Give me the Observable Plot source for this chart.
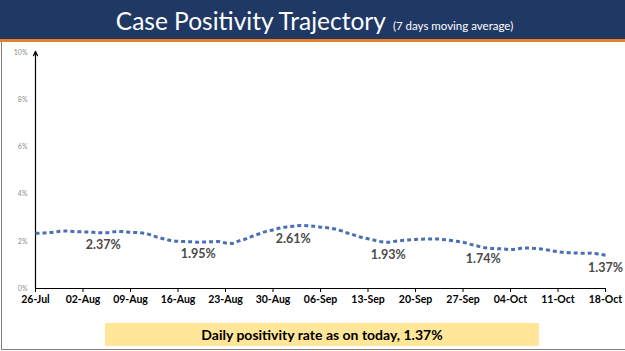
<!DOCTYPE html>
<html>
<head>
<meta charset="utf-8">
<script src="https://cdn.jsdelivr.net/npm/d3@7"></script>
<script src="https://cdn.jsdelivr.net/npm/@observablehq/plot@0.6"></script>
<style>
  html, body { margin: 0; padding: 0; background: #fff; }
  #slide { position: relative; width: 625px; height: 351px; overflow: hidden; background: #fff; font-family: Lato, "Open Sans", sans-serif; }
  #header { position: absolute; left: 0; top: 0; width: 625px; height: 39px; background: #1f3864; border-bottom: 3px solid #e87d2e; box-sizing: content-box; }
  #title { position: absolute; left: 0; width: 625px; top: 6px; text-align: center; color: #fff; white-space: nowrap; padding-left: 2px; }
  #title .main { font-size: 24.5px; }
  #title .sub { font-size: 11.5px; margin-left: 7px; }
  #chart { position: absolute; left: 0; top: 42px; }
  #footer { position: absolute; left: 105px; top: 323px; width: 434px; height: 23px; background: #ffe699; text-align: center; font-weight: bold; font-size: 14px; line-height: 23px; color: #000; }
  #leftborder { position: absolute; left: 1px; top: 42px; width: 1px; height: 308px; background: #7f7f7f; }
  #bottomborder { position: absolute; left: 1px; top: 349px; width: 624px; height: 1px; background: #7f7f7f; }
</style>
</head>
<body>
<div id="slide">
  <div id="header"></div>
  <div id="title"><span class="main">Case Positivity Trajectory</span><span class="sub">(7 days moving average)</span></div>
  <div id="chart"></div>
  <div id="footer">Daily positivity rate as on today, 1.37%</div>
  <div id="leftborder"></div>
  <div id="bottomborder"></div>
</div>
<script>
// Daily 7-day moving average positivity (%), starting 26-Jul
const startDate = "2020-07-26";
const positivity = [
  2.34, 2.35, 2.37, 2.40, 2.44, 2.43, 2.41, 2.40, 2.39, 2.37,
  2.36, 2.38, 2.42, 2.41, 2.38, 2.37, 2.34, 2.27, 2.17, 2.10,
  2.03, 2.00, 1.99, 1.98, 1.96, 1.97, 1.98, 1.99, 1.93, 1.91,
  2.02, 2.10, 2.22, 2.32, 2.42, 2.48, 2.56, 2.61, 2.64, 2.67,
  2.66, 2.64, 2.60, 2.57, 2.53, 2.45, 2.35, 2.26, 2.17, 2.11,
  2.04, 1.98, 1.96, 2.00, 2.03, 2.06, 2.08, 2.09, 2.10, 2.10,
  2.08, 2.04, 2.00, 1.96, 1.88, 1.81, 1.74, 1.71, 1.69, 1.68,
  1.65, 1.68, 1.72, 1.71, 1.69, 1.66, 1.60, 1.56, 1.53, 1.51,
  1.50, 1.49, 1.50, 1.46, 1.41
];
// Annotated labels
const labelDates = ["2020-08-05", "2020-08-19", "2020-09-02", "2020-09-16", "2020-09-30", "2020-10-18"];
const labelValues = [2.37, 1.95, 2.61, 1.93, 1.74, 1.37];
// Axis ticks
const xTickDates = ["2020-07-26","2020-08-02","2020-08-09","2020-08-16","2020-08-23","2020-08-30","2020-09-06","2020-09-13","2020-09-20","2020-09-27","2020-10-04","2020-10-11","2020-10-18"];
const yTicks = [0, 2, 4, 6, 8, 10];

const start = new Date(startDate);
const series = positivity.map((v, i) => ({date: d3.utcDay.offset(start, i), value: v}));
const labels = labelDates.map((d, i) => ({date: new Date(d), value: labelValues[i], text: labelValues[i].toFixed(2) + "%"}));
const xTicks = xTickDates.map(d => new Date(d));
const endDate = xTicks[xTicks.length - 1];

const chart = Plot.plot({
  width: 625,
  height: 275,
  marginLeft: 35,
  marginRight: 20,
  marginTop: 10,
  marginBottom: 29,
  style: {fontFamily: "Lato, 'Open Sans', sans-serif", background: "transparent"},
  x: {type: "utc", domain: [start, endDate]},
  y: {domain: [0, 10]},
  marks: [
    Plot.axisY({ticks: yTicks, tickFormat: d => d + "%", tickSize: 0, tickPadding: 8, fontSize: 7, fill: "#8c8c8c", label: null}),
    Plot.axisX({ticks: xTicks, tickFormat: d3.utcFormat("%d-%b"), tickSize: 4, tickPadding: 3, fontSize: 10.5, fontWeight: "bold", fill: "#000", stroke: "#000", label: null}),
    Plot.ruleY([0], {stroke: "#000", strokeWidth: 1.2}),
    Plot.arrow([{x: start}], {x1: "x", x2: "x", y1: () => 0, y2: () => 10.05, stroke: "#000", strokeWidth: 1.2, headLength: 6, headAngle: 50}),
    Plot.line(series, {x: "date", y: "value", stroke: "#4a6fb3", strokeWidth: 3, strokeDasharray: "4 3", strokeLinecap: "butt", curve: "monotone-x"}),
    Plot.text(labels, {x: "date", y: "value", text: "text", dy: 12, fontSize: 12.5, fontWeight: "bold", fill: "#4a4a4a"})
  ]
});
document.getElementById("chart").appendChild(chart);
</script>
</body>
</html>
